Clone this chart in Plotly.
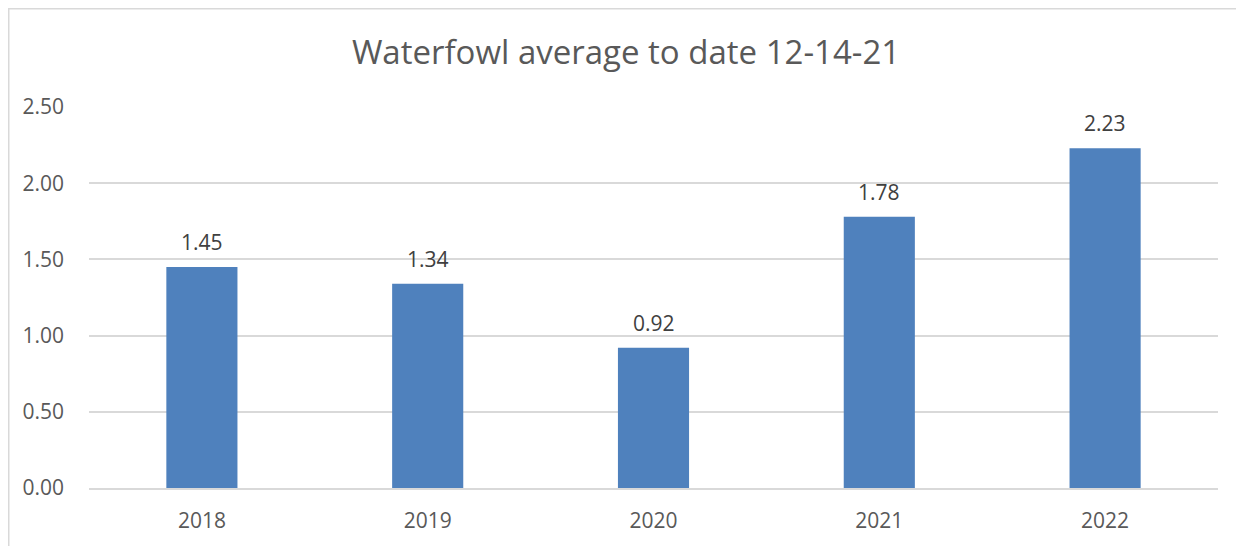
import plotly.graph_objects as go

years = ["2018", "2019", "2020", "2021", "2022"]
values = [1.45, 1.34, 0.92, 1.78, 2.23]
tick_vals = [0, 0.5, 1.0, 1.5, 2.0, 2.5]
tick_text = ["0.00", "0.50", "1.00", "1.50", "2.00", "2.50"]

# page has an 8px body margin, so the figure is drawn at (8, 8)
OFF = 8
W, H = 1244 - OFF, 546 - OFF
L, R, T, B = 89 - OFF, 26, 107 - OFF, 58
pw, ph = W - L - R, H - T - B

fig = go.Figure(go.Bar(
    x=years, y=values,
    marker=dict(color="#4F81BD", line=dict(width=0)),
    width=0.315,
    cliponaxis=False,
))

for i, v in enumerate(values):
    fig.add_annotation(x=i, y=v, xref="x", yref="y", text=f"{v:.2f}", showarrow=False,
                       yanchor="bottom", yshift=9,
                       font=dict(family="Open Sans", size=21, color="#404040"))

def px_x(p):
    return (p - L) / pw

def px_y(p):
    return (H - B - p) / ph

fig.add_shape(type="rect", xref="paper", yref="paper",
              x0=px_x(0.75), x1=px_x(1300), y0=px_y(600), y1=px_y(0.75),
              line=dict(color="#d9d9d9", width=1.5), fillcolor="rgba(0,0,0,0)", layer="below")

fig.update_layout(
    width=W, height=H,
    margin=dict(l=L, r=R, t=T, b=B, pad=0),
    paper_bgcolor="white", plot_bgcolor="white",
    title=dict(text="Waterfowl average to date 12-14-21", x=0.5, xref="container", xanchor="center",
               y=1 - (52 - OFF) / H, yref="container", yanchor="middle",
               font=dict(family="Open Sans", size=33, color="#595959")),
    showlegend=False,
)
fig.update_xaxes(type="category", showgrid=False, showline=True, linecolor="#d9d9d9", linewidth=1.5,
                 ticks="", tickfont=dict(family="Open Sans", size=21, color="#595959"),
                 ticklabelstandoff=13)
fig.update_yaxes(range=[0, 2.5], tickvals=tick_vals, ticktext=tick_text,
                 showgrid=True, gridcolor="#d9d9d9", gridwidth=1.5, zeroline=False,
                 showline=False, ticks="", ticklabelstandoff=24,
                 tickfont=dict(family="Open Sans", size=21, color="#595959"))

fig.write_html("out.html")
